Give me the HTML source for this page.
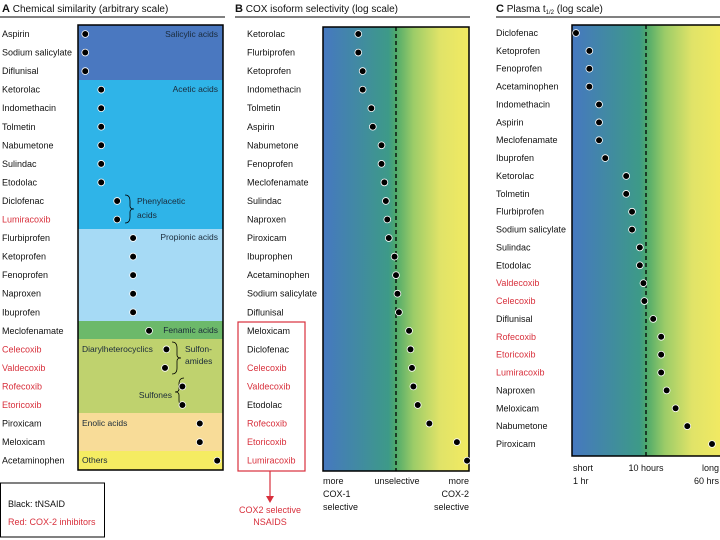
<!DOCTYPE html>
<html><head><meta charset="utf-8"><style>
html,body{margin:0;padding:0;background:#fff}
svg{display:block;font-family:"Liberation Sans",Arial,sans-serif}
</style></head><body>
<svg id="fig" width="720" height="540" viewBox="0 0 720 540">
<defs>
<linearGradient id="gB" x1="0" x2="1" y1="0" y2="0">
<stop offset="0" stop-color="#4678c0"/><stop offset="0.45" stop-color="#3d9a88"/><stop offset="0.5" stop-color="#4faa6a"/><stop offset="0.62" stop-color="#9ccc68"/><stop offset="0.8" stop-color="#e0e368"/><stop offset="1" stop-color="#f2ea62"/>
</linearGradient>
</defs>
<g id="A"></g><g id="B"></g><g id="C"></g>
</svg>
<script>
// Panel A data
const aNames=["Aspirin","Sodium salicylate","Diflunisal","Ketorolac","Indomethacin","Tolmetin","Nabumetone","Sulindac","Etodolac","Diclofenac","Lumiracoxib","Flurbiprofen","Ketoprofen","Fenoprofen","Naproxen","Ibuprofen","Meclofenamate","Celecoxib","Valdecoxib","Rofecoxib","Etoricoxib","Piroxicam","Meloxicam","Acetaminophen"];
const aRed=[0,0,0,0,0,0,0,0,0,0,1,0,0,0,0,0,0,1,1,1,1,0,0,0];
const aValues=[5,5,5,16,16,16,16,16,16,27,27,38,38,38,38,38,49,61,60,72,72,84,84,96];
// Panel B data
const bNames=["Ketorolac","Flurbiprofen","Ketoprofen","Indomethacin","Tolmetin","Aspirin","Nabumetone","Fenoprofen","Meclofenamate","Sulindac","Naproxen","Piroxicam","Ibuprophen","Acetaminophen","Sodium salicylate","Diflunisal","Meloxicam","Diclofenac","Celecoxib","Valdecoxib","Etodolac","Rofecoxib","Etoricoxib","Lumiracoxib"];
const bRed=[0,0,0,0,0,0,0,0,0,0,0,0,0,0,0,0,0,0,1,1,0,1,1,1];
const bValues=[-2.6,-2.6,-2.3,-2.3,-1.7,-1.6,-1.0,-1.0,-0.8,-0.7,-0.6,-0.5,-0.1,0.0,0.1,0.2,0.9,1.0,1.1,1.2,1.5,2.3,4.2,4.9];
// Panel C data (half-life, hours)
const cNames=["Diclofenac","Ketoprofen","Fenoprofen","Acetaminophen","Indomethacin","Aspirin","Meclofenamate","Ibuprofen","Ketorolac","Tolmetin","Flurbiprofen","Sodium salicylate","Sulindac","Etodolac","Valdecoxib","Celecoxib","Diflunisal","Rofecoxib","Etoricoxib","Lumiracoxib","Naproxen","Meloxicam","Nabumetone","Piroxicam"];
const cRed=[0,0,0,0,0,0,0,0,0,0,0,0,0,0,1,1,0,1,1,1,0,0,0,0];
const cValues=[1.1,1.6,1.6,1.6,2.1,2.1,2.1,2.5,4.5,4.5,5.3,5.3,6.6,6.6,7.3,7.5,9.6,12,12,12,14,18,25,50];

const NS="http://www.w3.org/2000/svg";
const RED="#d8303c";
function el(parent,tag,attrs,text){const e=document.createElementNS(NS,tag);for(const k in attrs)e.setAttribute(k,attrs[k]);if(text!==undefined)e.textContent=text;parent.appendChild(e);return e;}

// axis functions
const xA=v=>78+v*1.45; const yA=i=>34+i*18.55;
const xB=v=>396+v*14.5; const yB=i=>34+i*18.55;
const xC=h=>576+Math.log(h/1.1)/Math.log(50/1.1)*136; const yC=i=>33+i*17.87;

// ---------- Panel A ----------
const A=document.getElementById('A');
let t=el(A,'text',{x:2,y:12,'font-size':10,fill:'#111'});


t.innerHTML='<tspan font-weight="bold" font-size="11">A</tspan>  Chemical similarity (arbitrary scale)';
el(A,'line',{x1:0,y1:17,x2:225,y2:17,stroke:'#000','stroke-width':1});
const bands=[[25,80,'#4a78c0','salicylic-band'],[80,229,'#2fb4e8','acetic-band'],[229,321,'#a6daf5','propionic-band'],[321,339,'#6cb96a','fenamic-band'],[339,413,'#bfd26e','diarylheterocyclic-band'],[413,451,'#f8dc98','enolic-band'],[451,470,'#f5ec62','others-band']];
bands.forEach(b=>{const r=el(A,'rect',{x:78,y:b[0],width:145,height:b[1]-b[0],fill:b[2]});

});
el(A,'rect',{x:78,y:25,width:145,height:445,fill:'none',stroke:'#000','stroke-width':1.5});
const gl=[["Salicylic acids",218,37,'end'],["Acetic acids",218,92,'end'],["Propionic acids",218,240,'end'],["Fenamic acids",218,333,'end'],["Diarylheterocyclics",82,352,'start'],["Sulfon-",185,352,'start'],["amides",185,364,'start'],["Sulfones",172,398,'end'],["Enolic acids",82,426,'start'],["Others",82,463,'start'],["Phenylacetic",137,204,'start'],["acids",137,218,'start']];
gl.forEach(g=>{const e=el(A,'text',{x:g[1],y:g[2],'font-size':8.5,fill:'#1a2a3a','text-anchor':g[3]},g[0]);

});
// braces
el(A,'path',{d:'M125,195 q5,0 5,6 v5 q0,3 4,3 q-4,0 -4,3 v5 q0,6 -5,6',fill:'none',stroke:'#000','stroke-width':0.8});
el(A,'path',{d:'M172,342 q5,0 5,6 v7 q0,3 4,3 q-4,0 -4,3 v7 q0,6 -5,6',fill:'none',stroke:'#000','stroke-width':0.8});
el(A,'path',{d:'M184,378 q-5,0 -5,6 v5 q0,3 -4,3 q4,0 4,3 v5 q0,6 5,6',fill:'none',stroke:'#000','stroke-width':0.8});
aNames.forEach((n,i)=>{const e=el(A,'text',{x:2,y:yA(i)+3,'font-size':9,fill:aRed[i]?RED:'#111'},n);


const d=el(A,'circle',{cx:xA(aValues[i]),cy:yA(i),r:3.4,fill:'#000',stroke:'#fff','stroke-width':0.8});

});
const lg=el(A,'rect',{x:0.5,y:483,width:104,height:54,fill:'#fff',stroke:'#000','stroke-width':1});


el(A,'text',{x:8,y:507,'font-size':9,fill:'#111'},'Black: tNSAID');
el(A,'text',{x:8,y:525,'font-size':9,fill:RED},'Red: COX-2 inhibitors');

// ---------- Panel B ----------
const B=document.getElementById('B');
t=el(B,'text',{x:235,y:12,'font-size':10,fill:'#111'});


t.innerHTML='<tspan font-weight="bold" font-size="11">B</tspan>  COX isoform selectivity (log scale)';
el(B,'line',{x1:235,y1:17,x2:470,y2:17,stroke:'#000','stroke-width':1});
el(B,'rect',{x:323,y:27,width:146,height:444,fill:'url(#gB)',stroke:'#000','stroke-width':1.5});
el(B,'line',{x1:xB(0),y1:27,x2:xB(0),y2:471,stroke:'#000','stroke-width':1.3,'stroke-dasharray':'4,3'});
bNames.forEach((n,i)=>{const e=el(B,'text',{x:247,y:yB(i)+3,'font-size':9,fill:bRed[i]?RED:'#111'},n);


const d=el(B,'circle',{cx:xB(bValues[i]),cy:yB(i),r:3.4,fill:'#000',stroke:'#fff','stroke-width':0.8});

});
el(B,'rect',{x:238,y:322,width:67,height:149,fill:'none',stroke:RED,'stroke-width':1.2});
el(B,'line',{x1:270,y1:471,x2:270,y2:500,stroke:RED,'stroke-width':1.2});
el(B,'path',{d:'M266,496 L270,503 L274,496 Z',fill:RED});
el(B,'text',{x:270,y:513,'font-size':9,fill:RED,'text-anchor':'middle'},'COX2 selective');
el(B,'text',{x:270,y:525,'font-size':9,fill:RED,'text-anchor':'middle'},'NSAIDS');
[['more',484],['COX-1',497],['selective',510]].forEach(a=>el(B,'text',{x:323,y:a[1],'font-size':9,fill:'#111'},a[0]));
el(B,'text',{x:397,y:484,'font-size':9,fill:'#111','text-anchor':'middle'},'unselective');
[['more',484],['COX-2',497],['selective',510]].forEach(a=>el(B,'text',{x:469,y:a[1],'font-size':9,fill:'#111','text-anchor':'end'},a[0]));

// ---------- Panel C ----------
const C=document.getElementById('C');
t=el(C,'text',{x:496,y:12,'font-size':10,fill:'#111'});


t.innerHTML='<tspan font-weight="bold" font-size="11">C</tspan>  Plasma t<tspan font-size="6" dy="2">1/2</tspan><tspan dy="-2"> (log scale)</tspan>';
el(C,'line',{x1:496,y1:17,x2:720,y2:17,stroke:'#000','stroke-width':1});
el(C,'rect',{x:572,y:25,width:150,height:431,fill:'url(#gB)',stroke:'#000','stroke-width':1.5});
el(C,'line',{x1:646,y1:25,x2:646,y2:456,stroke:'#000','stroke-width':1.3,'stroke-dasharray':'4,3'});
cNames.forEach((n,i)=>{const e=el(C,'text',{x:496,y:yC(i)+3,'font-size':9,fill:cRed[i]?RED:'#111'},n);


const d=el(C,'circle',{cx:xC(cValues[i]),cy:yC(i),r:3.4,fill:'#000',stroke:'#fff','stroke-width':0.8});

});
el(C,'text',{x:573,y:471,'font-size':9,fill:'#111'},'short');
el(C,'text',{x:573,y:484,'font-size':9,fill:'#111'},'1 hr');
el(C,'text',{x:646,y:471,'font-size':9,fill:'#111','text-anchor':'middle'},'10 hours');
el(C,'text',{x:719,y:471,'font-size':9,fill:'#111','text-anchor':'end'},'long');
el(C,'text',{x:719,y:484,'font-size':9,fill:'#111','text-anchor':'end'},'60 hrs');
</script>
</body></html>
